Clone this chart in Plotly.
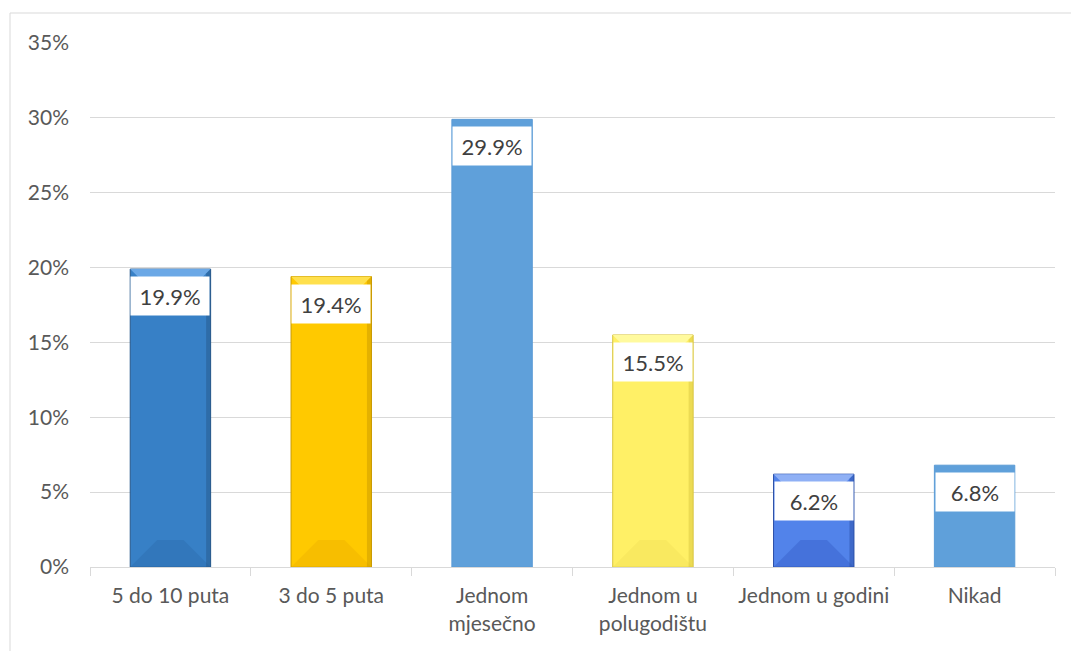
import plotly.graph_objects as go

categories = ["5 do 10 puta", "3 do 5 puta", "Jednom<br>mjesečno", "Jednom u<br>polugodištu", "Jednom u godini", "Nikad"]
values = [19.9, 19.4, 29.9, 15.5, 6.2, 6.8]
labels = ["19.9%", "19.4%", "29.9%", "15.5%", "6.2%", "6.8%"]
ytick_vals = [0, 5, 10, 15, 20, 25, 30, 35]
ytick_text = ["0%", "5%", "10%", "15%", "20%", "25%", "30%", "35%"]

fills = ["#3780C6", "#FFC900", "#5FA0DA", "#FFF066", "#5283EA", "#5FA0DA"]
edges = ["#25578A", "#C99A00", "#5B9BD5", "#D9C640", "#2A4FA8", "#5B9BD5"]
light = ["#6BA8E6", "#FFE04D", None, "#FFFA9E", "#8FB0F5", None]
dark = ["#2F72B4", "#F2B800", None, "#F5E55C", "#3E68D0", None]

W, H = 1071, 651
ML, MR, MT, MB = 90, 16, 43, 84
plot_w = W - ML - MR
plot_h = H - MT - MB
ymax = 35
px_y = ymax / plot_h
px_x = len(categories) / plot_w

fig = go.Figure()
fig.add_trace(go.Bar(
    x=categories, y=values, width=0.5,
    marker=dict(color=fills, line=dict(color=edges, width=1)),
    hoverinfo="skip",
))

shapes = []
bx = 9 * px_x
by = 9 * px_y
for i, v in enumerate(values):
    if light[i] is None:
        continue
    x0, x1 = i - 0.25, i + 0.25
    shapes.append(dict(type="path", xref="x", yref="y",
                       path=f"M {x0},{v} L {x1},{v} L {x1-bx},{v-by} L {x0+bx},{v-by} Z",
                       fillcolor=light[i], line=dict(width=0)))
    shapes.append(dict(type="path", xref="x", yref="y",
                       path=f"M {x0},0 L {x1},0 L {x1-bx*3},{by*3} L {x0+bx*3},{by*3} Z",
                       fillcolor=dark[i], line=dict(width=0), opacity=0.6))
    shapes.append(dict(type="path", xref="x", yref="y",
                       path=f"M {x1},0 L {x1},{v} L {x1-bx*0.5},{v-by*0.5} L {x1-bx*0.5},0 Z",
                       fillcolor=edges[i], line=dict(width=0), opacity=0.5))

shapes.append(dict(type="rect", xref="paper", yref="paper",
                   x0=(10 - ML) / plot_w, x1=(W + 5 - ML) / plot_w,
                   y0=-(H + 5 - MT - plot_h) / plot_h, y1=1 + (MT - 13) / plot_h,
                   line=dict(color="#D9D9D9", width=1), fillcolor="rgba(0,0,0,0)", layer="below"))

annotations = []
for i, (v, t) in enumerate(zip(values, labels)):
    annotations.append(dict(x=i, y=v, xref="x", yref="y", text=t, showarrow=False,
                            yanchor="top", yshift=-7, bgcolor="white", width=76, height=36,
                            font=dict(family="Lato, Open Sans, sans-serif", size=22, color="#404040")))

fig.update_layout(
    width=W, height=H,
    margin=dict(l=ML, r=MR, t=MT, b=MB),
    paper_bgcolor="white", plot_bgcolor="white",
    showlegend=False,
    shapes=shapes, annotations=annotations,
    font=dict(family="Lato, Open Sans, sans-serif", size=21, color="#595959"),
    bargap=0.5,
)
fig.update_xaxes(
    showgrid=False, showline=True, linecolor="#D9D9D9", linewidth=1,
    ticks="outside", tickson="boundaries", ticklen=8, tickcolor="#D9D9D9",
    ticklabelstandoff=10,
    tickfont=dict(size=21, color="#595959"),
)
fig.update_yaxes(
    range=[0, ymax], tickvals=ytick_vals, ticktext=ytick_text,
    showgrid=True, gridcolor="#D9D9D9", gridwidth=1, zeroline=False,
    showline=False, ticklabelstandoff=20,
    tickfont=dict(size=21, color="#595959"),
)

fig.write_html("out.html")
